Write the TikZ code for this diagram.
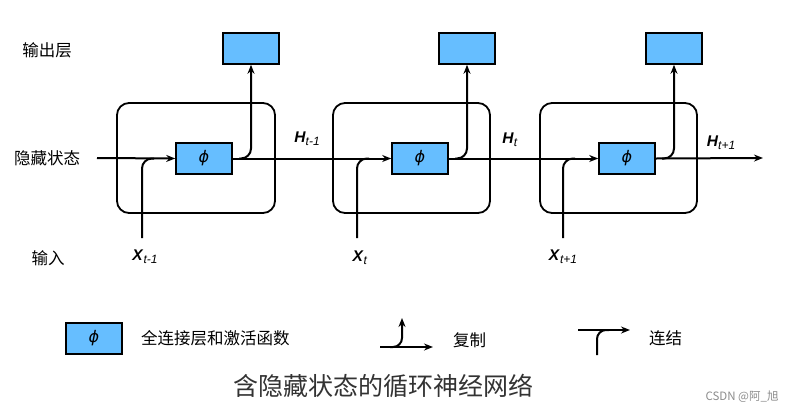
\documentclass[tikz,border=0pt]{standalone}
\usepackage{fontspec}
\setmainfont{Liberation Sans}
\newfontfamily\cjk{Noto Sans CJK SC}
\newfontfamily\dejavu{DejaVu Sans}
\usetikzlibrary{arrows.meta}
\definecolor{boxblue}{RGB}{102,190,255}
\newcommand\vlab[2]{\textbf{\textit{#1}}\raisebox{-3pt}{\fontsize{12}{12}\selectfont\textit{#2}}}
\newcommand\phisym{{\dejavu\itshape ϕ}}
\begin{document}
\begin{tikzpicture}[x=1pt,y=-1pt, line width=2pt,
  fc/.style={draw, fill=boxblue, line width=1.6pt, minimum width=56pt, minimum height=31pt, inner sep=0pt, font=\fontsize{16}{16}\selectfont},
  cell/.style={draw, rounded corners=12pt, line width=1.8pt, minimum width=157pt, minimum height=110pt, inner sep=0pt},
  arr/.style={-{Stealth[length=9pt,width=7pt]}},
  lab/.style={font=\cjk\fontsize{16.5}{16.5}\selectfont},
  var/.style={font=\fontsize{15.5}{15.5}\selectfont, inner sep=0pt}
]
\useasboundingbox (0,0) rectangle (793,413);
% cells
\node[cell, minimum width=158pt] (c1) at (196,158) {};
\node[cell] (c2) at (411.5,158) {};
\node[cell] (c3) at (618.5,158) {};
% fc boxes
\node[fc] (p1) at (204,158.5) {\phisym};
\node[fc] (p2) at (420,158.5) {\phisym};
\node[fc] (p3) at (627,158.5) {\phisym};
% output boxes
\node[fc] (o1) at (251,48.5) {};
\node[fc] (o2) at (467,48.5) {};
\node[fc] (o3) at (674,48.5) {};
% main hidden line
\coordinate (in0) at (97,158);
\coordinate (out) at (763,158);
\draw[arr] (in0) -- (p1.west);
\draw[arr] (p1.east) -- (p2.west);
\draw[arr] (p2.east) -- (p3.west);
\draw[arr] (p3.east) -- (out);
% copy branches
\draw[arr, rounded corners=10pt] ([xshift=-12pt]o1.south |- p1.east) -| (o1.south);
\draw[arr, rounded corners=10pt] ([xshift=-12pt]o2.south |- p2.east) -| (o2.south);
\draw[arr, rounded corners=10pt] ([xshift=-12pt]o3.south |- p3.east) -| (o3.south);
% input concat
\coordinate (x1b) at (142,238);
\coordinate (x2b) at (357,238);
\coordinate (x3b) at (563,238);
\draw[rounded corners=10pt] (x1b) |- ([xshift=12pt]x1b |- p1.west);
\draw[rounded corners=10pt] (x2b) |- ([xshift=12pt]x2b |- p2.west);
\draw[rounded corners=10pt] (x3b) |- ([xshift=12pt]x3b |- p3.west);
% variable labels
\node[var] (h1) at (307,139) {\vlab{H}{t-1}};
\node[var] (h2) at (510,140) {\vlab{H}{t}};
\node[var] (h3) at (721,143) {\vlab{H}{t+1}};
\node[var] (xl1) at (145,257) {\vlab{X}{t-1}};
\node[var] (xl2) at (360,258) {\vlab{X}{t}};
\node[var] (xl3) at (563,257) {\vlab{X}{t+1}};
% row labels
\node[lab] (r1) at (47,50) {输出层};
\node[lab] (r2) at (47,158) {隐藏状态};
\node[lab] (r3) at (48,258) {输入};
% legend
\node[fc] (lg) at (94,338.5) {\phisym};
\node[lab, anchor=west, inner sep=0pt] (lgt) at (140,338) {全连接层和激活函数};
\coordinate (ca) at (380,347);
\coordinate (cb) at (433,347);
\coordinate (cs) at (390,347);
\coordinate (cu) at (402,318);
\draw[arr] (ca) -- (cb);
\draw[arr, rounded corners=9pt] (cs) -| (cu);
\node[lab, anchor=west, inner sep=0pt] (cpt) at (452,340) {复制};
\coordinate (ka) at (578,330);
\coordinate (kb) at (630,330);
\coordinate (kd) at (597,355);
\coordinate (ke) at (609,330);
\draw[arr] (ka) -- (kb);
\draw[rounded corners=9pt] (kd) |- (ke);
\node[lab, anchor=west, inner sep=0pt] (kt) at (648,338) {连结};
% title
\node[font=\cjk\fontsize{25}{25}\selectfont, text=black!80] (title) at (383,386) {含隐藏状态的循环神经网络};
\node[font=\cjk\fontsize{11.5}{11.5}\selectfont, text=black!45] (wm) at (742,397) {CSDN @阿\_旭};
\end{tikzpicture}
\end{document}
